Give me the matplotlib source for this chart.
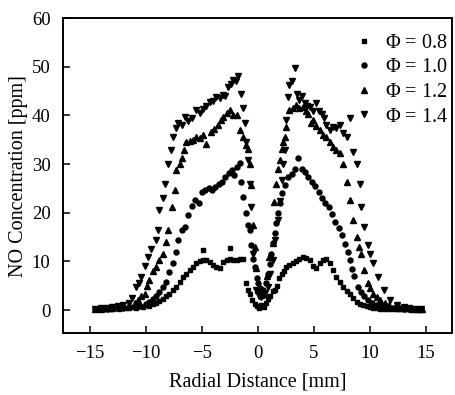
import matplotlib
matplotlib.use("Agg")
from matplotlib import pyplot as plt

# Phi = 0.8 (squares)
x08 = [-14.5, -14.2, -13.9, -13.6, -13.3, -13.0, -12.7, -12.4, -12.1, -11.8, -11.5, -11.2, -10.9, -10.6,
       -10.3, -10.0, -9.7, -9.4, -9.1, -8.8, -8.5, -8.2, -7.9, -7.6, -7.3, -7.0, -6.7, -6.4, -6.1, -5.8,
       -5.5, -5.2, -4.9, -4.9, -4.6, -4.3, -4.0, -3.7, -3.4, -3.1, -2.8, -2.5, -2.5, -2.2, -1.9, -1.6,
       -1.3, -1.1, -0.9, -0.7, -0.5, -0.3, -0.1, 0.1, 0.3, 0.5, 0.7, 0.9, 1.1, 1.3, 1.5, 1.7, 1.9, 2.1,
       2.3, 2.5, 2.8, 3.1, 3.4, 3.7, 4.0, 4.3, 4.6, 4.9, 5.2, 5.5, 5.8, 6.1, 6.4, 6.7, 7.0, 7.3, 7.6,
       7.9, 8.2, 8.5, 8.8, 9.1, 9.4, 9.7, 10.0, 10.3, 10.6, 10.9, 11.2, 11.5, 11.8, 12.1, 12.4, 12.7,
       13.0, 13.3, 13.6, 13.9, 14.2, 14.5]
y08 = [0.3, 0.2, 0.3, 0.2, 0.3, 0.3, 0.4, 0.3, 0.4, 0.5, 0.5, 0.6, 0.5, 0.8,
       0.7, 1.0, 0.9, 1.2, 1.5, 1.8, 2.3, 2.8, 3.3, 4.2, 4.8, 5.8, 6.8, 7.5, 8.3, 8.9,
       9.6, 10.0, 10.3, 12.3, 10.2, 9.8, 9.3, 8.8, 8.6, 9.9, 10.4, 10.6, 12.7, 10.2, 10.4, 10.5,
       10.6, 5.5, 4.1, 3.3, 2.0, 1.2, 0.8, 0.5, 1.0, 0.7, 1.5, 2.2, 3.0, 3.9, 4.2, 5.0, 6.5, 7.5,
       8.1, 8.8, 9.2, 9.6, 10.1, 10.6, 11.0, 10.7, 10.2, 9.0, 8.6, 9.6, 10.2, 10.6, 9.6, 8.2, 6.8, 5.8, 4.8,
       4.0, 3.3, 2.5, 1.7, 1.3, 1.0, 0.8, 0.6, 0.5, 0.4, 0.3, 0.3, 0.3, 0.2, 0.3, 0.2, 0.2,
       0.2, 0.3, 0.2, 0.2, 0.1, 0.1]

# Phi = 1.0 (circles)
x10 = [-14.5, -14.0, -13.5, -13.0, -12.5, -12.0, -11.5, -11.0, -10.5, -10.0, -9.7, -9.4, -9.1, -8.8,
       -8.5, -8.2, -7.9, -7.6, -7.3, -7.1, -6.8, -6.5, -6.2, -5.9, -5.6, -5.3, -5.0, -4.7, -4.4, -4.1,
       -3.8, -3.5, -3.2, -2.9, -2.6, -2.3, -2.1, -1.9, -1.6, -1.5, -1.3, -1.1, -0.9, -0.7, -0.6, -0.4,
       -0.3, -0.1, 0.0, 0.2, 0.45, 0.7, 0.9, 1.05, 1.2, 1.35, 1.5, 1.65, 1.8, 1.95, 2.1, 2.4, 2.7, 3.0,
       3.3, 3.6, 3.9, 4.2, 4.5, 4.8, 5.1, 5.4, 5.7, 6.0, 6.3, 6.6, 6.9, 7.2, 7.5, 7.8, 8.0, 8.2, 8.4,
       8.6, 8.9, 9.2, 9.5, 9.8, 10.2, 10.6, 11.0, 11.5, 12.0, 12.5, 13.0, 13.5, 14.0, 14.5]
y10 = [0.3, 0.3, 0.3, 0.4, 0.4, 0.5, 0.6, 0.7, 0.9, 1.3, 1.7, 2.2, 2.9, 3.8,
       4.8, 5.8, 7.8, 9.6, 12.0, 14.4, 16.5, 17.1, 19.5, 21.5, 22.6, 22.0, 24.3, 24.7, 25.0, 24.7,
       25.3, 26.0, 26.4, 27.4, 28.2, 28.8, 27.8, 29.5, 30.3, 26.4, 23.3, 19.9, 17.5, 16.4, 13.4, 10.5,
       8.9, 6.5, 5.5, 4.5, 4.1, 5.5, 7.5, 9.5, 11.6, 13.8, 15.8, 18.0, 19.9, 22.0, 24.0, 25.8, 27.4, 28.0,
       29.1, 31.2, 29.0, 28.4, 27.4, 26.3, 25.6, 24.3, 23.0, 22.0, 21.2, 19.8, 18.2, 16.8, 15.4, 13.5, 12.0, 10.3, 8.5,
       7.0, 4.8, 3.8, 3.0, 2.1, 1.5, 1.0, 0.8, 0.6, 0.5, 0.4, 0.3, 0.3, 0.3, 0.2]

# Phi = 1.2 (up triangles)
x12 = [-14.5, -14.0, -13.5, -13.0, -12.5, -12.0, -11.5, -11.0, -10.7, -10.4, -10.1, -9.9, -9.7, -9.4,
       -9.1, -8.8, -8.5, -8.2, -8.0, -7.7, -7.4, -7.3, -7.0, -6.8, -6.6, -6.4, -6.1, -5.8, -5.5, -5.2,
       -4.9, -4.6, -4.2, -3.9, -3.6, -3.3, -3.1, -2.8, -2.5, -2.2, -1.9, -1.6, -1.3, -1.1, -0.9, -0.75,
       -0.6, -0.45, -0.3, -0.15, 0.0, 0.3, 0.6, 0.8, 1.0, 1.3, 1.4, 1.6, 1.8, 1.95, 2.1, 2.25, 2.4, 2.5,
       2.8, 3.1, 3.4, 3.7, 4.0, 4.3, 4.5, 4.7, 4.9, 5.2, 5.5, 5.8, 6.1, 6.4, 6.7, 7.0, 7.3, 7.6, 7.9,
       8.2, 8.5, 8.8, 9.0, 9.2, 9.5, 9.8, 10.0, 10.3, 10.6, 10.9, 11.3, 11.7, 12.2, 12.7, 13.2, 13.7,
       14.2, 14.6]
y12 = [0.3, 0.3, 0.4, 0.5, 0.6, 0.8, 1.0, 1.5, 2.0, 2.8, 3.4, 5.0, 6.2, 8.0,
       8.9, 10.2, 11.6, 14.0, 16.4, 21.2, 24.7, 28.8, 30.0, 31.2, 33.0, 34.6, 34.8, 34.9, 35.5, 35.3,
       36.0, 34.2, 36.6, 37.2, 38.0, 39.0, 39.7, 40.5, 41.1, 40.0, 40.1, 37.0, 35.6, 34.0, 33.2, 30.0,
       25.7, 17.5, 13.0, 8.6, 4.1, 3.2, 3.4, 7.0, 11.0, 13.7, 22.2, 26.0, 29.1, 30.8, 33.2, 34.5, 35.6, 37.6,
       41.1, 41.5, 42.1, 41.5, 41.8, 41.0, 40.4, 38.5, 39.0, 37.8, 37.0, 36.0, 35.6, 34.5, 33.6, 33.0, 32.2, 30.1, 26.4,
       22.6, 18.5, 15.1, 13.0, 11.6, 8.2, 5.5, 4.5, 3.4, 2.6, 2.1, 1.5, 1.0, 0.7, 0.5, 0.4, 0.3,
       0.3, 0.2]

# Phi = 1.4 (down triangles)
x14 = [-14.5, -14.0, -13.5, -13.0, -12.5, -12.0, -11.5, -11.2, -10.9, -10.6, -10.4, -10.1, -9.8, -9.5,
       -9.1, -8.9, -8.8, -8.5, -8.3, -8.0, -7.8, -7.6, -7.3, -7.1, -6.8, -6.5, -6.2, -5.9, -5.5, -5.2,
       -4.9, -4.6, -4.3, -4.0, -3.7, -3.4, -3.1, -2.9, -2.7, -2.4, -2.2, -2.0, -1.8, -1.5, -1.35, -1.2,
       -1.05, -0.9, -0.75, -0.6, -0.4, -0.15, 0.1, 0.3, 0.6, 0.9, 1.1, 1.3, 1.55, 1.8, 1.95, 2.1, 2.25,
       2.4, 2.5, 2.7, 2.8, 3.0, 3.3, 3.5, 3.7, 3.9, 4.2, 4.4, 4.6, 4.9, 5.2, 5.4, 5.7, 5.9, 6.1, 6.4,
       6.7, 7.0, 7.3, 7.6, 7.9, 8.2, 8.5, 8.8, 9.1, 9.2, 9.5, 9.8, 10.0, 10.3, 10.7, 11.2, 11.8, 12.4,
       13.0, 13.5, 14.0, 14.5]
y14 = [0.3, 0.4, 0.5, 0.6, 0.8, 1.0, 1.5, 2.5, 4.8, 5.5, 6.8, 9.0, 11.0, 12.5,
       14.4, 16.4, 20.5, 23.0, 26.0, 30.1, 33.0, 35.6, 37.5, 38.4, 38.0, 39.7, 38.8, 39.4, 41.1, 40.5,
       41.4, 42.0, 42.8, 43.0, 43.8, 43.5, 44.2, 44.0, 45.9, 46.5, 47.3, 47.0, 48.1, 44.5, 41.5, 38.4,
       34.5, 30.8, 26.0, 21.2, 11.6, 4.1, 3.0, 2.7, 3.5, 4.8, 7.5, 10.3, 14.5, 18.5, 22.5, 26.7, 30.0,
       32.9, 39.0, 43.8, 46.2, 47.0, 49.7, 44.5, 43.2, 44.0, 42.5, 42.0, 41.8, 41.0, 42.5, 41.0, 40.4, 39.5, 38.0, 37.0,
       37.7, 37.5, 38.0, 36.5, 35.6, 39.4, 32.5, 30.1, 26.0, 21.2, 17.1, 13.4, 11.5, 9.6, 6.8, 4.1, 2.1, 1.0,
       0.6, 0.4, 0.3, 0.3]

labels = [r"$\Phi$ = 0.8", r"$\Phi$ = 1.0", r"$\Phi$ = 1.2", r"$\Phi$ = 1.4"]


def main():
    plt.rcParams.update({
        "font.family": ["Liberation Serif", "DejaVu Serif"],
        "mathtext.fontset": "custom",
        "mathtext.rm": "Liberation Serif",
        "mathtext.it": "Liberation Serif",
    })

    fig = plt.figure(figsize=(4.56, 3.95), dpi=100)
    ax = fig.add_axes([0.138, 0.157, 0.853, 0.797])

    series = [
        (x08, y08, "s", 3.4),
        (x10, y10, "o", 3.6),
        (x12, y12, "^", 4.3),
        (x14, y14, "v", 4.3),
    ]
    for (x, y, m, ms), lab in zip(series, labels):
        ax.plot(x, y, linestyle="none", marker=m, markersize=ms, color="black", label=lab)

    ax.set_xlim(-17.4, 17.3)
    ax.set_ylim(-4.7, 60)
    ax.set_xticks(range(-15, 16, 5))
    ax.set_yticks(range(0, 61, 10))
    ax.tick_params(direction="in", length=5, width=1.1, labelsize=13.5, pad=9)
    for s in ax.spines.values():
        s.set_linewidth(1.4)

    ax.set_xlabel("Radial Distance [mm]", fontsize=14.5, labelpad=7)
    ax.set_ylabel("NO Concentration [ppm]", fontsize=14.5, labelpad=3)

    ax.legend(loc="upper right", bbox_to_anchor=(1.025, 0.995), frameon=False, fontsize=14.5,
              handletextpad=0.5, labelspacing=0.27, handlelength=1.0, borderaxespad=0.3)

    fig.savefig("out.png", dpi=100)


if __name__ == '__main__':
    main()
